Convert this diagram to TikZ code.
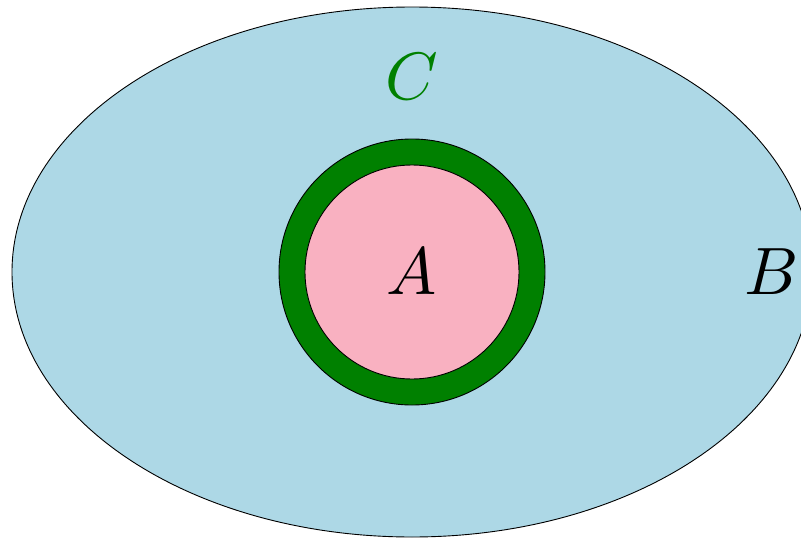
\documentclass[tikz,border=0pt]{standalone}
\usepackage{tikz}
\definecolor{setblue}{RGB}{173,216,230}
\definecolor{setpink}{RGB}{249,177,193}
\definecolor{setgreen}{RGB}{0,128,0}
\tikzset{
  outline/.style={draw=black, line width=0.9pt},
  biglabel/.style={scale=6.7, inner sep=0pt}
}
\begin{document}
\begin{tikzpicture}[x=1pt,y=-1pt]
\useasboundingbox (0,0) rectangle (801,541);
\begin{scope}
\clip (0,0) rectangle (801,541);
\path[outline, fill=setblue] (412,272) ellipse [x radius=400, y radius=265];
\path[outline, fill=setgreen] (412,272) circle [radius=133];
\path[outline, fill=setpink] (412,272) circle [radius=107];
\end{scope}
\node[biglabel] (A) at (412,272) {$A$};
\node[biglabel] (B) at (772,272) {$B$};
\node[biglabel, text=setgreen] (C) at (412,77) {$C$};
\end{tikzpicture}
\end{document}
